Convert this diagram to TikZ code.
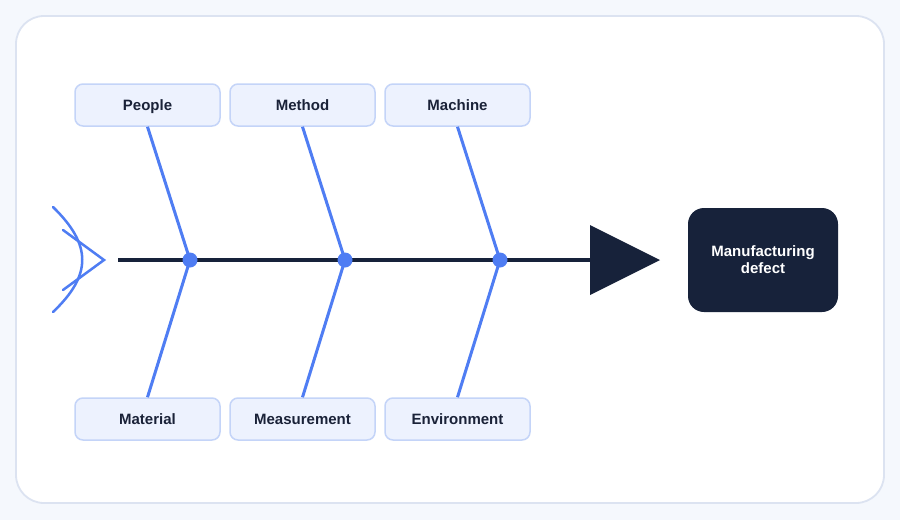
\documentclass[tikz,border=0pt]{standalone}
\usepackage{fontspec}
\setmainfont{Liberation Sans}
\definecolor{bgc}{HTML}{F5F8FD}
\definecolor{cardb}{HTML}{DCE3F1}
\definecolor{navy}{HTML}{17223A}
\definecolor{bone}{HTML}{4F7DF3}
\definecolor{boxf}{HTML}{EDF2FE}
\definecolor{boxb}{HTML}{C4D4F8}
\definecolor{txt}{HTML}{1A2238}
\begin{document}
\begin{tikzpicture}[x=1pt,y=-1pt,
  cat/.style={draw=boxb,line width=1.5pt,fill=boxf,rounded corners=8pt,minimum width=145pt,minimum height=42pt,inner sep=0pt,text height=11pt,text depth=1pt,font=\fontsize{15}{18}\selectfont\bfseries,text=txt},
  bonel/.style={draw=bone,line width=3pt},
  jdot/.style={circle,fill=bone,minimum size=15pt,inner sep=0pt}]
\useasboundingbox (0,0) rectangle (900,520);
\fill[bgc] (0,0) rectangle (900,520);
\draw[cardb,fill=white,line width=1.8pt,rounded corners=28pt] (16,16) rectangle (884,503);
% spine
\coordinate (s0) at (118,260);
\coordinate (s1) at (592,260);
\draw[navy,line width=4pt] (s0) -- (s1);
\fill[navy] (590,225) -- (660,260) -- (590,295) -- cycle;
% tail
\draw[bone,line width=2.5pt,line cap=round] (53,207) .. controls (92,245) and (92,275) .. (53,312);
\draw[bone,line width=2.5pt,line cap=round,line join=miter] (63,230) -- (104,260) -- (63,290);
% boxes
\node[cat] (people) at (147.5,105) {People};
\node[cat] (method) at (302.5,105) {Method};
\node[cat] (machine) at (457.5,105) {Machine};
\node[cat] (material) at (147.5,419) {Material};
\node[cat] (measure) at (302.5,419) {Measurement};
\node[cat] (env) at (457.5,419) {Environment};
% joints
\coordinate (j1) at (190,260);
\coordinate (j2) at (345,260);
\coordinate (j3) at (500,260);
\draw[bonel] (people.south) -- (j1);
\draw[bonel] (method.south) -- (j2);
\draw[bonel] (machine.south) -- (j3);
\draw[bonel] (j1) -- (material.north);
\draw[bonel] (j2) -- (measure.north);
\draw[bonel] (j3) -- (env.north);
\node[jdot] (d1) at (j1) {};
\node[jdot] (d2) at (j2) {};
\node[jdot] (d3) at (j3) {};
% effect
\node[fill=navy,rounded corners=16pt,minimum width=150pt,minimum height=104pt,text=white,align=center,font=\fontsize{15}{17}\selectfont\bfseries] (effect) at (763,260) {Manufacturing\\defect};
\end{tikzpicture}
\end{document}
